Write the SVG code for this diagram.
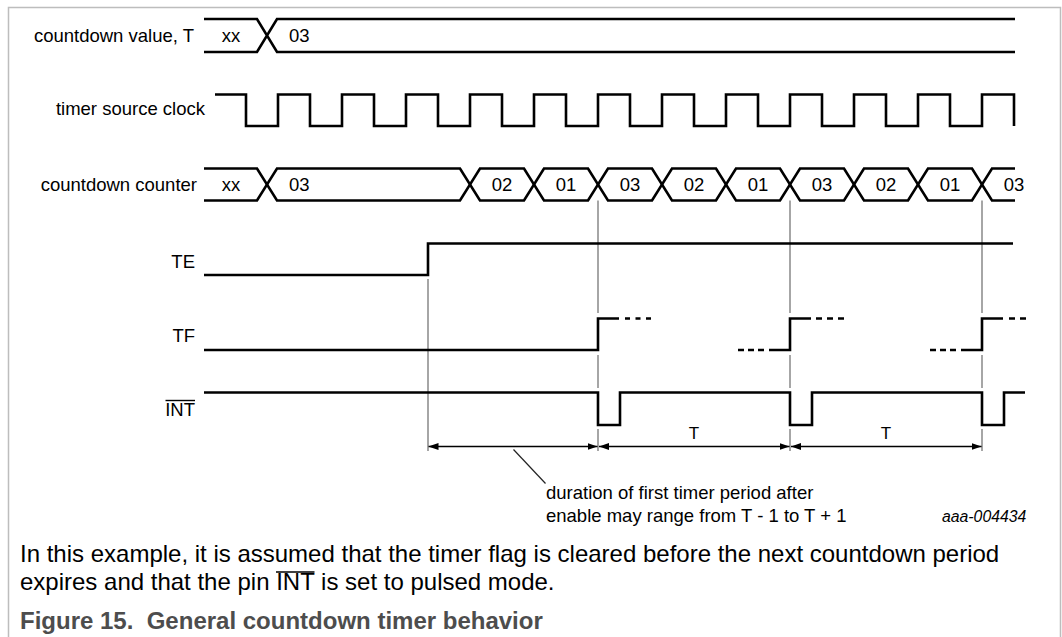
<svg xmlns="http://www.w3.org/2000/svg" width="1062" height="637" viewBox="0 0 1062 637">
<style>
text{font-family:"Liberation Sans",Arial,sans-serif;fill:#000}
.lbl{font-size:18.5px;text-anchor:end}
.bus{font-size:18.5px}
.c{text-anchor:middle}
.sig{fill:none;stroke:#000;stroke-width:2.6;stroke-linejoin:miter;stroke-linecap:butt}
.dash{fill:none;stroke:#000;stroke-width:2.6}
.grey{stroke:#808080;stroke-width:1.4;fill:none}
.arr{stroke:#000;stroke-width:1.3;fill:none;marker-start:url(#ah);marker-end:url(#ah)}
.ovl{stroke:#000;stroke-width:1.4}
</style>
<defs>
<marker id="ah" markerUnits="userSpaceOnUse" markerWidth="10" markerHeight="7" refX="10" refY="3.5" orient="auto-start-reverse">
<path d="M0,0 L10,3.5 L0,7 z" fill="#000"/>
</marker>
</defs>
<rect width="1062" height="637" fill="#fff"/>
<path d="M8.5,637 V7.5 H1060.5 V637" fill="none" stroke="#bdbdbd" stroke-width="1.5"/>

<g id="connectors">
<line class="grey" x1="428" y1="279" x2="428" y2="451"/>
<line class="grey" x1="598" y1="200.5" x2="598" y2="313"/>
<line class="grey" x1="598" y1="355" x2="598" y2="388"/>
<line class="grey" x1="598" y1="429" x2="598" y2="451"/>
<line class="grey" x1="790" y1="200.5" x2="790" y2="313"/>
<line class="grey" x1="790" y1="355" x2="790" y2="388"/>
<line class="grey" x1="790" y1="429" x2="790" y2="451"/>
<line class="grey" x1="982" y1="200.5" x2="982" y2="313"/>
<line class="grey" x1="982" y1="355" x2="982" y2="388"/>
<line class="grey" x1="982" y1="429" x2="982" y2="451"/>
<line class="arr" x1="428.5" y1="446.5" x2="597.5" y2="446.5"/>
<line class="arr" x1="599" y1="446.5" x2="789.5" y2="446.5"/>
<line class="arr" x1="791" y1="446.5" x2="981.5" y2="446.5"/>
<line x1="513.5" y1="449.5" x2="545.5" y2="483.5" stroke="#222" stroke-width="1.2"/>
<text x="694" y="439" font-size="17" text-anchor="middle">T</text>
<text x="886" y="439" font-size="17" text-anchor="middle">T</text>
</g>

<g id="countdown-value">
<text class="lbl" x="194" y="42">countdown value, T</text>
<path class="sig" d="M204,19 H257 L277,52 H1015 M204,52 H257 L277,19 H1015"/>
<text class="bus c" x="231" y="42">xx</text>
<text class="bus" x="289" y="42">03</text>
</g>

<g id="timer-source-clock">
<text class="lbl" x="205" y="115">timer source clock</text>
<path class="sig" d="M215,94.5 H246 V126 H278 V94.5 H310 V126 H342 V94.5 H374 V126 H406 V94.5 H438 V126 H470 V94.5 H502 V126 H534 V94.5 H566 V126 H598 V94.5 H630 V126 H662 V94.5 H694 V126 H726 V94.5 H758 V126 H790 V94.5 H822 V126 H854 V94.5 H886 V126 H918 V94.5 H950 V126 H982 V94.5 H1014 V126"/>
</g>

<g id="countdown-counter">
<text class="lbl" x="197" y="191">countdown counter</text>
<path class="sig" d="M204,168.5 H257 L277,200.5 H460 L480,168.5 H524 L544,200.5 H588 L608,168.5 H652 L672,200.5 H716 L736,168.5 H780 L800,200.5 H844 L864,168.5 H908 L928,200.5 H972 L992,168.5 H1015"/>
<path class="sig" d="M204,200.5 H257 L277,168.5 H460 L480,200.5 H524 L544,168.5 H588 L608,200.5 H652 L672,168.5 H716 L736,200.5 H780 L800,168.5 H844 L864,200.5 H908 L928,168.5 H972 L992,200.5 H1015"/>
<text class="bus c" x="231" y="191">xx</text>
<text class="bus" x="289" y="191">03</text>
<text class="bus c" x="502" y="191">02</text>
<text class="bus c" x="566" y="191">01</text>
<text class="bus c" x="630" y="191">03</text>
<text class="bus c" x="694" y="191">02</text>
<text class="bus c" x="758" y="191">01</text>
<text class="bus c" x="822" y="191">03</text>
<text class="bus c" x="886" y="191">02</text>
<text class="bus c" x="950" y="191">01</text>
<text class="bus c" x="1014" y="191">03</text>
</g>

<g id="TE">
<text class="lbl" x="195" y="268">TE</text>
<path class="sig" d="M204,275 H428 V243.5 H1013"/>
</g>

<g id="TF">
<text class="lbl" x="195" y="342">TF</text>
<path class="sig" d="M204,350 H598 V318.5 H619"/>
<line class="dash" x1="625" y1="318.5" x2="651" y2="318.5" stroke-dasharray="5 5.5"/>
<line class="dash" x1="738" y1="350" x2="764" y2="350" stroke-dasharray="6 4"/>
<path class="sig" d="M769,350 H790 V318.5 H811"/>
<line class="dash" x1="816" y1="318.5" x2="844" y2="318.5" stroke-dasharray="6 5"/>
<line class="dash" x1="930" y1="350" x2="956" y2="350" stroke-dasharray="6 4"/>
<path class="sig" d="M961,350 H982 V318.5 H1003"/>
<line class="dash" x1="1009" y1="318.5" x2="1026" y2="318.5" stroke-dasharray="6 5"/>
</g>

<g id="INT">
<text class="lbl" x="195" y="416">INT</text>
<line class="ovl" x1="165.5" y1="400.5" x2="195" y2="400.5"/>
<path class="sig" d="M204,392.5 H598 V425 H620 V392.5 H790 V425 H812 V392.5 H982 V425 H1004 V392.5 H1025"/>
</g>

<g id="notes">
<text x="546" y="498.5" font-size="18.5">duration of first timer period after</text>
<text x="546" y="521.5" font-size="18.5">enable may range from T - 1 to T + 1</text>
<text x="942" y="521.5" font-size="15.8" font-style="italic">aaa-004434</text>
</g>

<g id="caption">
<text x="20" y="561.5" font-size="24">In this example, it is assumed that the timer flag is cleared before the next countdown period</text>
<text x="20" y="590" font-size="24">expires and that the pin INT is set to pulsed mode.</text>
<line class="ovl" x1="276" y1="572" x2="314.5" y2="572" stroke-width="1.6"/>
<text x="20" y="629" font-size="24" font-weight="bold" style="fill:#4d4d4d">Figure 15.&#160; General countdown timer behavior</text>
</g>
</svg>
